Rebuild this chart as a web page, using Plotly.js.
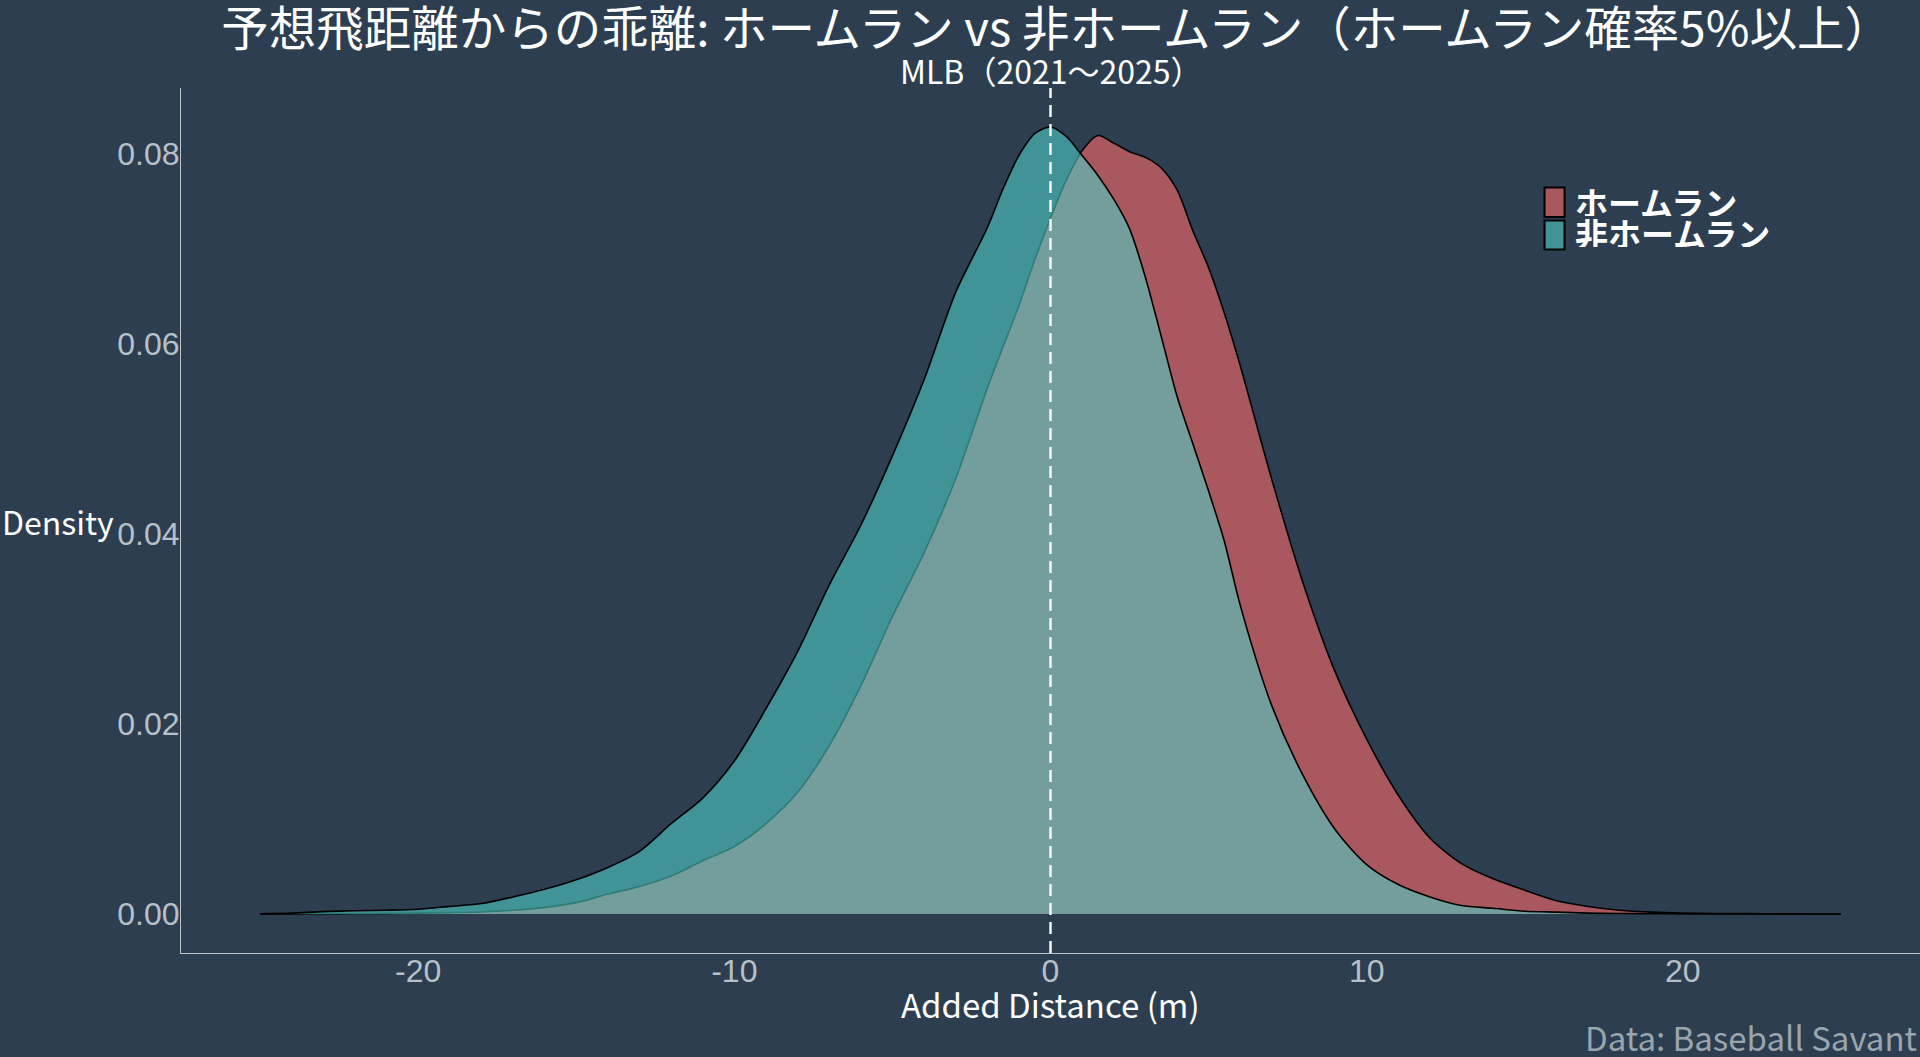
<!DOCTYPE html>
<html>
<head>
<meta charset="utf-8">
<script src="https://cdn.plot.ly/plotly-3.0.1.min.js"></script>
<style>
  html, body { margin: 0; padding: 0; background: #2c3e50; }
  #chart { width: 1920px; height: 1057px; }
</style>
</head>
<body>
<div id="chart"></div>
<script>
// ---- data ----
const xGrid = [-25,-24,-23,-22,-21,-20,-19,-18,-17,-16,-15,-14,-13,-12,-11,-10,-9,-8,-7,-6,-5,-4,-3,-2,-1.5,-1,-0.5,0,0.5,1,1.5,2,2.5,3,3.5,4,4.5,5,5.5,6,7,8,9,10,11,12,13,14,15,16,17,18,19,20,21,22,23,24,25];

// ホームラン (home runs)
const densityHR = [0.00001,0.00002,0.00003,0.00005,0.00007,0.0001,0.00015,0.00022,0.0004,0.0007,0.0012,0.0021,0.0029,0.0040,0.0056,0.0071,0.0095,0.0128,0.0177,0.0240,0.0313,0.0380,0.0458,0.0553,0.0597,0.0640,0.0688,0.0732,0.0772,0.0803,0.0819,0.0811,0.0802,0.0796,0.0785,0.0762,0.0719,0.0680,0.0632,0.0577,0.0457,0.0347,0.0255,0.0184,0.0125,0.0080,0.0053,0.0037,0.0025,0.0014,0.0008,0.0004,0.0002,0.0001,0.00006,0.00004,0.00002,0.00001,0.00001];

// 非ホームラン (non home runs)
const densityNonHR = [0.00002,0.0001,0.00025,0.00035,0.0004,0.0005,0.0008,0.0011,0.0018,0.0026,0.0036,0.0049,0.0066,0.0095,0.0122,0.0161,0.0216,0.0276,0.0346,0.0409,0.0482,0.0562,0.0654,0.0722,0.0763,0.0798,0.0821,0.0828,0.0818,0.0798,0.0777,0.0752,0.0721,0.0670,0.0608,0.0545,0.0495,0.0445,0.0392,0.0325,0.0219,0.0145,0.0089,0.0052,0.0031,0.0018,0.0009,0.0006,0.0003,0.0002,0.0001,0.00005,0.00003,0.00002,0.00001,0.00001,0.00001,0.00001,0.00001];

const seriesNames = ['ホームラン', '非ホームラン'];
const seriesFill = ['rgba(255,107,107,0.6)', 'rgba(78,205,196,0.6)'];
const xTicks = [-20, -10, 0, 10, 20];
const yTicks = [0, 0.02, 0.04, 0.06, 0.08];

const titleText = '予想飛距離からの乖離: ホームラン vs 非ホームラン（ホームラン確率5%以上）';
const subtitleText = 'MLB（2021～2025）';
const xTitleText = 'Added Distance (m)';
const yTitleText = 'Density';
const captionText = 'Data: Baseball Savant';

const BG = '#2c3e50';
const CJK = '"Noto Sans CJK JP", "Noto Sans", sans-serif';
const TICKFONT = '"Liberation Sans", Arial, sans-serif';

const traces = [densityHR, densityNonHR].map((ys, i) => ({
  type: 'scatter',
  mode: 'lines',
  x: xGrid,
  y: ys,
  name: seriesNames[i],
  fill: 'tozeroy',
  fillcolor: seriesFill[i],
  line: { color: '#000000', width: 1.6, shape: 'spline', smoothing: 0.8 },
  showlegend: false,
  hoverinfo: 'x+y+name'
}));

// custom legend (tall swatches like the reference)
const legX0 = 0.7841, legX1 = 0.7956;
const legRows = [
  { y0: 0.8509, y1: 0.8850, ty: 0.8685 },
  { y0: 0.8133, y1: 0.8468, ty: 0.8326 }
];

const shapes = [
  { type: 'line', xref: 'x', yref: 'paper', x0: 0, x1: 0, y0: 0, y1: 1,
    line: { color: '#f4f6f7', width: 2.5, dash: '12px,7px' }, layer: 'above' }
];
const annotations = [
  { text: subtitleText, xref: 'paper', yref: 'paper', x: 0.5, y: 1.0208,
    xanchor: 'center', yanchor: 'middle', showarrow: false,
    font: { family: CJK, size: 32, color: '#ffffff' } },
  { text: yTitleText, xref: 'paper', yref: 'paper', x: -0.1041, y: 0.5,
    xanchor: 'left', yanchor: 'middle', showarrow: false,
    font: { family: CJK, size: 32, color: '#ffffff' } },
  { text: xTitleText, xref: 'paper', yref: 'paper', x: 0.5, y: -0.0585,
    xanchor: 'center', yanchor: 'middle', showarrow: false,
    font: { family: CJK, size: 33, color: '#ffffff' } },
  { text: captionText, xref: 'paper', yref: 'paper', x: 0.9995, y: -0.0971,
    xanchor: 'right', yanchor: 'middle', showarrow: false,
    font: { family: CJK, size: 33, color: '#9aa5ae' } }
];
seriesNames.forEach((nm, i) => {
  shapes.push({ type: 'rect', xref: 'paper', yref: 'paper',
    x0: legX0, x1: legX1, y0: legRows[i].y0, y1: legRows[i].y1,
    fillcolor: seriesFill[i], line: { color: '#000000', width: 2 }, layer: 'above' });
  annotations.push({ text: nm, xref: 'paper', yref: 'paper', x: 0.8005, y: legRows[i].ty,
    xanchor: 'left', yanchor: 'middle', showarrow: false, height: 28,
    font: { family: CJK, size: 33, color: '#ffffff', weight: 'bold' } });
});

const layout = {
  width: 1920, height: 1057,
  paper_bgcolor: BG, plot_bgcolor: BG,
  margin: { l: 181, r: 0, t: 88, b: 104, pad: 0 },
  title: { text: titleText, x: 0.5035, xref: 'paper', xanchor: 'center',
           y: 1 - 29 / 1057, yref: 'container', yanchor: 'middle',
           font: { family: CJK, size: 47.5, color: '#ffffff' } },
  xaxis: {
    range: [-27.5, 27.5], tickvals: xTicks, ticktext: xTicks.map(String),
    showgrid: false, zeroline: false, showline: true, linecolor: '#bdc3c7', linewidth: 1,
    ticks: '', ticklabelstandoff: -10,
    tickfont: { family: TICKFONT, size: 32, color: '#b7c0c8' },
    automargin: false
  },
  yaxis: {
    range: [-0.0041, 0.0869], tickvals: yTicks, ticktext: yTicks.map(v => v.toFixed(2)),
    showgrid: false, zeroline: false, showline: true, linecolor: '#bdc3c7', linewidth: 1,
    ticks: '', ticklabelstandoff: -6,
    tickfont: { family: TICKFONT, size: 32, color: '#b7c0c8' },
    automargin: false
  },
  shapes: shapes,
  annotations: annotations
};

Plotly.newPlot('chart', traces, layout, { displayModeBar: false, staticPlot: false });
</script>
</body>
</html>
